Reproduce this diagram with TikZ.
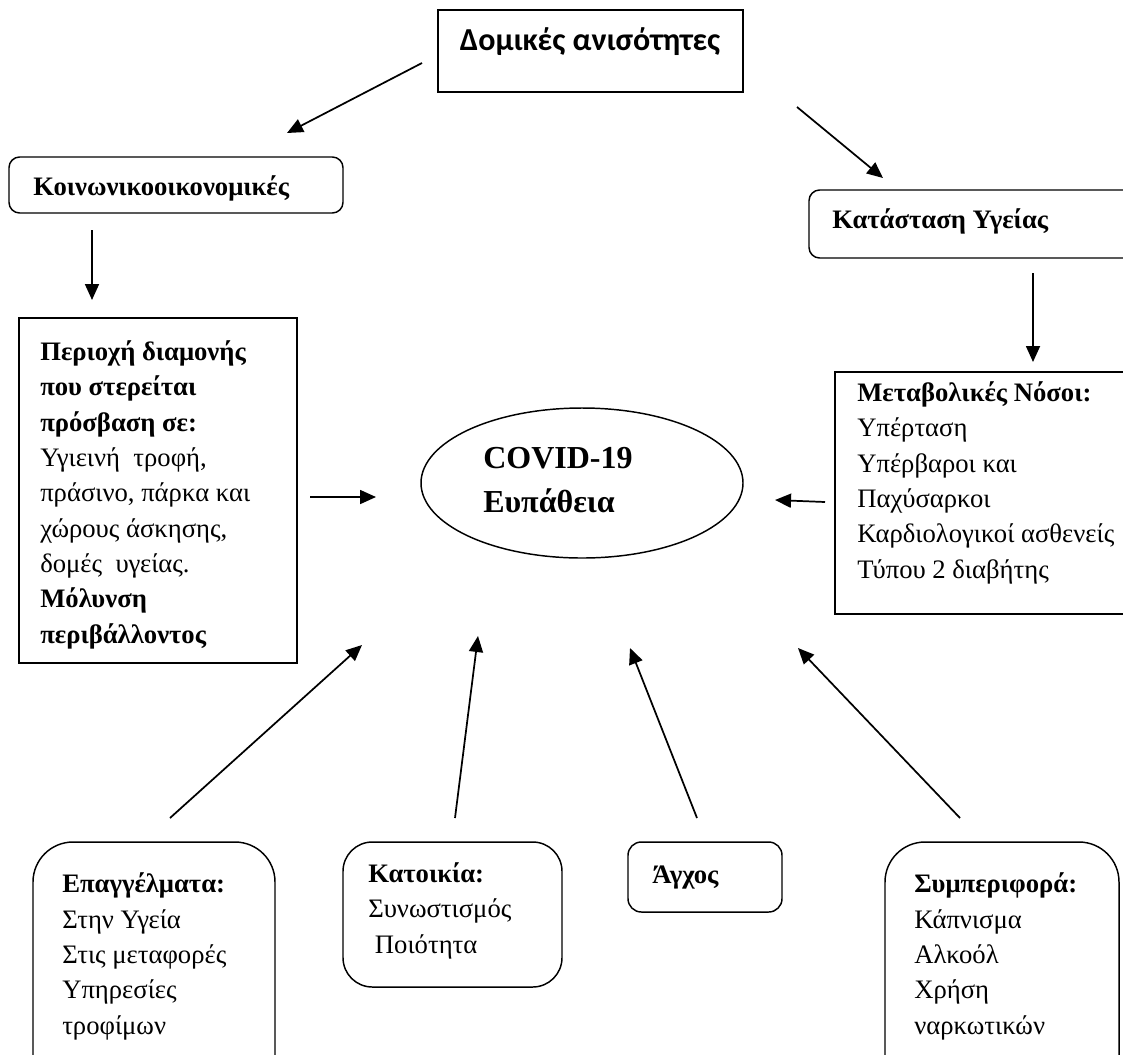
\documentclass[tikz,border=0pt]{standalone}
\usepackage{fontspec}
\setmainfont{Liberation Serif}
\newfontfamily\calibri{Carlito}
\usetikzlibrary{arrows.meta,shapes.geometric,fit}

\begin{document}
\begin{tikzpicture}[x=0.75pt,y=-0.75pt,
                    arrow/.style = {line width=1.3pt,-{Triangle[length=12pt,width=10.5pt]}},
                    box/.style = {draw,line width=1.1pt,inner sep=0pt},
                    txt/.style = {anchor=base west,align=left,inner sep=0pt,
                                  font=\fontsize{20}{26.5}\selectfont}]
                    \useasboundingbox (0,0) rectangle (1123,1054);
                    \clip (0,0) rectangle (1123,1054);

                    % boxes
                    \node [box, fit={(438,10) (743,92)}] (top) {};
                    \node [box, rounded corners=8pt, fit={(9,157) (343,213)}] (socio) {};
                    \node [box, rounded corners=8pt, fit={(809,190) (1140,258)}] (health) {};
                    \node [box, fit={(19,318) (297,663)}] (area) {};
                    \node [box, fit={(835,372) (1140,614)}] (metab) {};
                    \node [box, ellipse, minimum width=241.5pt, minimum height=112.5pt] (covid) at (582,483) {};
                    \node [box, rounded corners=30pt, fit={(33,842) (275,1100)}] (jobs) {};
                    \node [box, rounded corners=22pt, fit={(343,842) (562,987)}] (house) {};
                    \node [box, rounded corners=10pt, fit={(628,842) (782,912)}] (stress) {};
                    \node [box, rounded corners=30pt, fit={(885,842) (1119,1100)}] (behav) {};

                    % texts (anchored at the baseline of their last line)
                    \node [anchor=base, inner sep=0pt, font=\calibri\bfseries\fontsize{24}{28}\selectfont]
                        (top-t) at (590,50) {Δομικές ανισότητες};
                    \node [txt] (socio-t) at (33,195) {\textbf{Κοινωνικοοικονομικές}};
                    \node [txt] (health-t) at (832,228) {\textbf{Κατάσταση Υγείας}};
                    \node [txt] (area-t) at (40,643) {\textbf{Περιοχή διαμονής}\\\textbf{που στερείται}\\\textbf{πρόσβαση σε:}\\Υγιεινή~ τροφή,\\πράσινο, πάρκα και\\χώρους άσκησης,\\δομές~ υγείας.\\\textbf{Μόλυνση}\\\textbf{περιβάλλοντος}};
                    \node [txt] (metab-t) at (857,578) {\textbf{Μεταβολικές Νόσοι:}\\Υπέρταση\\Υπέρβαροι και\\Παχύσαρκοι\\Καρδιολογικοί ασθενείς\\Τύπου 2 διαβήτης};
                    \node [txt, font=\bfseries\fontsize{24}{33}\selectfont] (covid-t) at (483,512) {COVID-19\\Ευπάθεια};
                    \node [txt] (jobs-t) at (62,1034) {\textbf{Επαγγέλματα:}\\Στην Υγεία\\Στις μεταφορές\\Υπηρεσίες\\τροφίμων};
                    \node [txt] (house-t) at (368,953) {\textbf{Κατοικία:}\\Συνωστισμός\\\ Ποιότητα};
                    \node [txt] (stress-t) at (652,883) {\textbf{Άγχος}};
                    \node [txt] (behav-t) at (914,1034) {\textbf{Συμπεριφορά:}\\Κάπνισμα\\Αλκοόλ\\Χρήση\\ναρκωτικών};

                    % arrow ends
                    \coordinate (top-l) at (422,63);   \coordinate (socio-in) at (287,133);
                    \coordinate (top-r) at (797,107);  \coordinate (health-in) at (883,178);
                    \coordinate (socio-out) at (92,230);   \coordinate (area-in) at (92,300);
                    \coordinate (health-out) at (1033,273); \coordinate (metab-in) at (1033,362);
                    \coordinate (area-out) at (310,497);  \coordinate (covid-w) at (376,497);
                    \coordinate (metab-out) at (825,502); \coordinate (covid-e) at (775,500);
                    \coordinate (jobs-out) at (170,818);  \coordinate (covid-sw) at (362,645);
                    \coordinate (house-out) at (455,818); \coordinate (covid-s) at (478,636);
                    \coordinate (stress-out) at (697,818); \coordinate (covid-se) at (630,648);
                    \coordinate (behav-out) at (960,818); \coordinate (covid-ee) at (798,648);

                    \draw[arrow] (top-l) -- (socio-in);
                    \draw[arrow] (top-r) -- (health-in);
                    \draw[arrow] (socio-out) -- (area-in);
                    \draw[arrow] (health-out) -- (metab-in);
                    \draw[arrow] (area-out) -- (covid-w);
                    \draw[arrow] (metab-out) -- (covid-e);
                    \draw[arrow] (jobs-out) -- (covid-sw);
                    \draw[arrow] (house-out) -- (covid-s);
                    \draw[arrow] (stress-out) -- (covid-se);
                    \draw[arrow] (behav-out) -- (covid-ee);
                \end{tikzpicture}
\end{document}
